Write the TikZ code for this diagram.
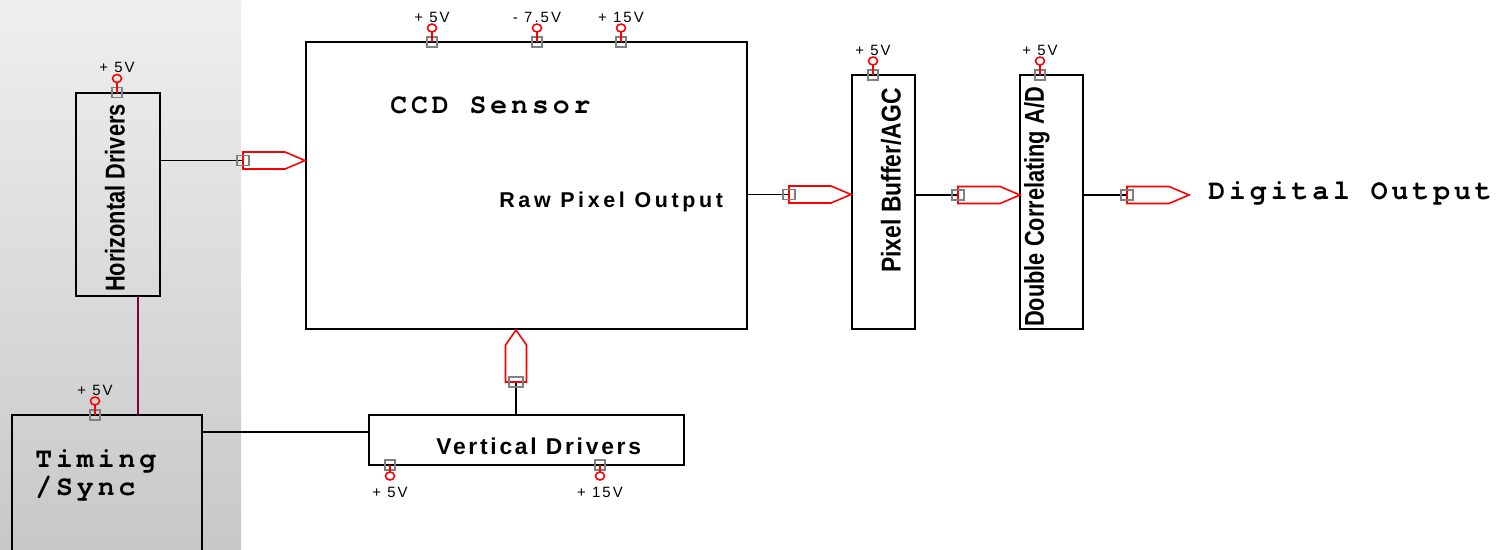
\documentclass[tikz,border=0pt]{standalone}
\usepackage{fontspec}
\setmainfont{Liberation Sans}
\newfontfamily\monofnt{texgyrecursor-bold}[Extension=.otf, LetterSpace=14]
\newfontfamily\sansls{Liberation Sans}[LetterSpace=17]
\newfontfamily\sansvd{Liberation Sans}[LetterSpace=12]
\newfontfamily\lblfnt{Liberation Sans}[LetterSpace=14]
\usetikzlibrary{calc}
\definecolor{bgtop}{RGB}{239,239,239}
\definecolor{bgbot}{RGB}{200,200,200}
\definecolor{maroonline}{RGB}{128,0,64}
\definecolor{pingray}{RGB}{128,128,128}
\tikzset{
  blkbox/.style={draw=black, line width=1pt, inner sep=0pt, outer sep=0pt},
  wire/.style={draw=black, line width=1pt},
  pinsq/.style={draw=pingray, line width=0.8pt},
  pinring/.style={draw=red, line width=0.9pt},
  pinline/.style={draw=red, line width=0.9pt},
  conred/.style={draw=red, line width=0.9pt},
  volt/.style={font=\lblfnt\fontsize{8.5}{9}\selectfont, inner sep=0pt},
  monolbl/.style={font=\monofnt\fontsize{16}{13.7}\selectfont, inner sep=0pt},
  rawlbl/.style={font=\sansls\bfseries\fontsize{12.2}{13}\selectfont, inner sep=0pt},
  vdlbl/.style={font=\sansvd\bfseries\fontsize{13}{14}\selectfont, inner sep=0pt},
  rotlbl/.style={font=\bfseries\fontsize{15.5}{16}\selectfont, inner sep=0pt, rotate=90}
}
% top pin: #1 name, #2 point, #3 label
\newcommand\pinTop[3]{%
  \coordinate (#1) at #2;
  \draw[pinsq] ($(#1)+(-5,-5)$) rectangle ($(#1)+(5,5)$);
  \draw[pinline] ($(#1)+(0,-10)$) -- (#1);
  \draw[pinring] ($(#1)+(0,-14)$) ellipse [x radius=4.5, y radius=4];
  \node[volt] (#1l) at ($(#1)+(0,-25)$) {#3};
}
% bottom pin
\newcommand\pinBot[3]{%
  \coordinate (#1) at #2;
  \draw[pinsq] ($(#1)+(-5,-5)$) rectangle ($(#1)+(5,5)$);
  \draw[pinline] (#1) -- ($(#1)+(0,7)$);
  \draw[pinring] ($(#1)+(0,11)$) ellipse [x radius=4.5, y radius=4];
  \node[volt] (#1l) at ($(#1)+(0,27)$) {#3};
}
% right-pointing connector: #1 name, #2 point
\newcommand\connR[2]{%
  \coordinate (#1) at #2;
  \draw[conred] ($(#1)+(0,-8.5)$) -- ++(42,0) -- ++(20,8.5) -- ++(-20,8.5) -- ++(-42,0) -- cycle;
  \draw[pinsq] ($(#1)+(-6,-5)$) rectangle ($(#1)+(6,5)$);
}
\begin{document}
\begin{tikzpicture}[x=0.02cm, y=-0.02cm]
\useasboundingbox (0,0) rectangle (1500,549);
\clip (0,0) rectangle (1500,549);
\fill[white] (0,0) rectangle (1500,549);
\shade[top color=bgtop, bottom color=bgbot] (0,0) rectangle (241,549);

% boxes
\node[blkbox, minimum width=1.68cm, minimum height=4.06cm] (HD) at (118,194.5) {};
\node[blkbox, minimum width=8.82cm, minimum height=5.74cm] (CCD) at (526.5,185.5) {};
\node[blkbox, minimum width=1.26cm, minimum height=5.08cm] (PB) at (883.5,202) {};
\node[blkbox, minimum width=1.26cm, minimum height=5.08cm] (DC) at (1051.5,202) {};
\node[blkbox, minimum width=6.3cm, minimum height=1.0cm] (VD) at (526.5,440) {};
\node[blkbox, minimum width=3.8cm, minimum height=2.9cm] (TS) at (107,487.5) {};

% texts
\node[rotlbl] (HDt) at (115,198) {\scalebox{0.8}[1]{Horizontal Drivers}};
\node[rotlbl] (PBt) at (891,180.5) {\scalebox{0.84}[1]{Pixel Buffer/AGC}};
\node[rotlbl] (DCt) at (1037,207) {\scalebox{0.8}[1]{Double Correlating A/D}};
\node[monolbl, anchor=base west] (CCDt) at (390,113) {CCD Sensor};
\node[rawlbl, anchor=base west] (RPt) at (499,207) {Raw Pixel Output};
\node[vdlbl, anchor=base west] (VDt) at (436,454) {Vertical Drivers};
\node[monolbl, anchor=base west, align=left] (TSt) at (35,495) {Timing\\/Sync};
\node[monolbl, anchor=base west] (DOt) at (1208,199) {Digital Output};

% wires
\coordinate (m1) at (138,350);
\draw[draw=maroonline, line width=1pt] (HD.south -| m1) -- (TS.north -| m1);
\coordinate (v1) at (300,432);
\draw[wire] (TS.east |- v1) -- (VD.west |- v1);

\coordinate (c1) at (243,160.5);
\draw[wire] (HD.east |- c1) -- (c1);
\coordinate (c2) at (789,194.5);
\draw[wire] (CCD.east |- c2) -- (c2);
\coordinate (c3) at (958,195);
\draw[wire] (PB.east |- c3) -- (c3);
\coordinate (c4) at (1127,195);
\draw[wire] (DC.east |- c4) -- (c4);
\coordinate (c5) at (516,382);
\draw[wire] (VD.north -| c5) -- (c5);

% connectors
\connR{a1}{(243,160.5)}
\connR{a2}{(789,194.5)}
\connR{a3}{(958,195)}
\connR{a4}{(1127,195)}
\draw[conred] ($(c5)+(-10.5,0)$) -- ++(0,-37) -- ++(10.5,-15) -- ++(10.5,15) -- ++(0,37) -- cycle;
\draw[pinsq] ($(c5)+(-7,-5)$) rectangle ($(c5)+(7,5)$);

% pins
\pinTop{p1}{(117,92.5)}{+ 5V}
\pinTop{p2}{(432,42)}{+ 5V}
\pinTop{p3}{(537,42)}{- 7.5V}
\pinTop{p4}{(621,42)}{+ 15V}
\pinTop{p5}{(873,75)}{+ 5V}
\pinTop{p6}{(1040,75)}{+ 5V}
\pinTop{p7}{(95,415)}{+ 5V}
\pinBot{p8}{(390,465)}{+ 5V}
\pinBot{p9}{(600,465)}{+ 15V}
\end{tikzpicture}
\end{document}
